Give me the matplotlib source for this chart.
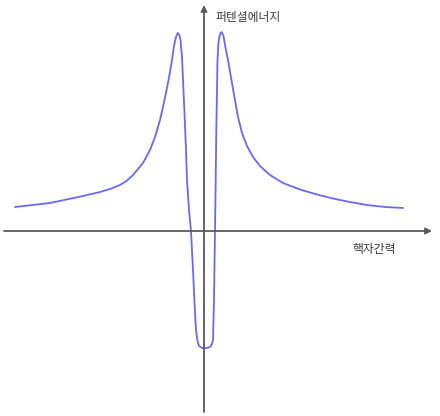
import matplotlib.pyplot as plt

plt.rcParams['font.family'] = ['Noto Sans CJK KR', 'DejaVu Sans']

# nuclear distance vs potential energy
distance = [-18.9, -15.4, -12.1, -10.4, -9.4, -8.4, -7.75, -7.1, -6.1, -5.4, -4.9,
            -4.4, -4.1, -3.7, -3.4, -3.2, -3.0, -2.8, -2.63, -2.47, -2.35,
            -2.2, -2.1, -1.95, -1.8, -1.7, -1.5, -1.3, -1.1, -0.9, -0.8,
            -0.67, -0.5, -0.2, 0.3, 0.6, 0.8, 0.9, 1.0, 1.1, 1.17,
            1.23, 1.3, 1.35, 1.45, 1.6, 1.75, 1.95, 2.1, 2.4, 2.8,
            3.1, 3.4, 3.8, 4.3, 4.9, 5.6, 6.6, 7.9, 9.6, 11.3,
            12.9, 14.6, 16.3, 18.1, 19.9]
energy = [2.4, 2.8, 3.5, 3.9, 4.2, 4.6, 5.0, 5.6, 6.8, 8.1, 9.4,
          11.1, 12.4, 14.3, 15.9, 17.1, 18.5, 19.4, 19.8, 19.6, 19.1,
          17.4, 15.1, 11.8, 8.1, 5.1, 2.1, 0.0, -3.9, -8.2, -9.9,
          -10.9, -11.5, -11.7, -11.7, -11.6, -11.3, -10.9, -6.9, 0.0, 5.1,
          10.1, 14.1, 17.1, 18.9, 19.7, 19.9, 19.5, 18.6, 17.1, 14.8,
          13.1, 11.4, 9.8, 8.5, 7.4, 6.5, 5.6, 4.8, 4.15, 3.65,
          3.25, 2.9, 2.6, 2.4, 2.3]

xlabel = '핵자간력'
ylabel = '퍼텐셜에너지'

fig = plt.figure(figsize=(4.4, 4.16), dpi=100)
ax = fig.add_axes([0, 0, 1, 1])
ax.set_xlim(-20.4, 23.6)
ax.set_ylim(-18.5, 23.1)
ax.axis('off')

# axes with arrow heads
arrow = dict(arrowstyle='-|>', color='#5a5a5a', lw=1.3, mutation_scale=9,
             shrinkA=0, shrinkB=0)
ax.annotate('', xy=(22.8, 0), xytext=(-20.0, 0), arrowprops=arrow)
ax.annotate('', xy=(0, 22.6), xytext=(0, -18.1), arrowprops=arrow)

ax.plot(distance, energy, color='#6a6af0', lw=1.3,
        solid_capstyle='round', solid_joinstyle='round')

ax.text(1.1, 21.4, ylabel, fontsize=8.5, color='#3a3a3a', va='center', ha='left')
ax.text(17.0, -1.8, xlabel, fontsize=8.5, color='#3a3a3a', va='center', ha='center')

fig.savefig('out.png', dpi=100)
